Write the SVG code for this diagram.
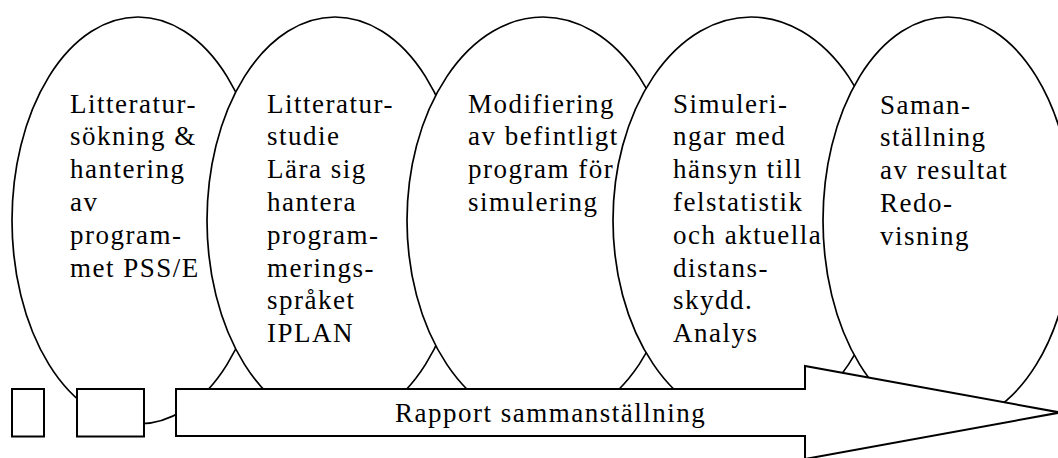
<svg xmlns="http://www.w3.org/2000/svg" width="1058" height="458" viewBox="0 0 1058 458">
<style>
.ell{fill:#fff;stroke:#000;stroke-width:1.7}
.box{fill:#fff;stroke:#000;stroke-width:2}
.lbl{font-family:"Liberation Serif","Times New Roman",serif;font-size:27px;letter-spacing:1.5px;fill:#000}
</style>
<rect width="1058" height="458" fill="#fff"/>
<g id="n1">
<ellipse class="ell" cx="138" cy="220.5" rx="126" ry="203.5"/>
<text class="lbl" x="70" y="112.5">
<tspan x="70" y="112.5">Litteratur-</tspan>
<tspan x="70" dy="32.8">sökning &amp;</tspan>
<tspan x="70" dy="32.8">hantering</tspan>
<tspan x="70" dy="32.8">av</tspan>
<tspan x="70" dy="32.8">program-</tspan>
<tspan x="70" dy="32.8">met PSS/E</tspan>
</text>
</g>
<g id="n2">
<ellipse class="ell" cx="335" cy="220.5" rx="128" ry="203.5"/>
<text class="lbl" x="267" y="112.5">
<tspan x="267" y="112.5">Litteratur-</tspan>
<tspan x="267" dy="32.8">studie</tspan>
<tspan x="267" dy="32.8">Lära sig</tspan>
<tspan x="267" dy="32.8">hantera</tspan>
<tspan x="267" dy="32.8">program-</tspan>
<tspan x="267" dy="32.8">merings-</tspan>
<tspan x="267" dy="32.8">språket</tspan>
<tspan x="267" dy="32.8">IPLAN</tspan>
</text>
</g>
<g id="n3">
<ellipse class="ell" cx="543" cy="220.5" rx="136" ry="203.5"/>
<text class="lbl" x="468" y="112.5">
<tspan x="468" y="112.5">Modifiering</tspan>
<tspan x="468" dy="32.8">av befintligt</tspan>
<tspan x="468" dy="32.8">program för</tspan>
<tspan x="468" dy="32.8">simulering</tspan>
</text>
</g>
<g id="n4">
<ellipse class="ell" cx="751" cy="220.5" rx="138" ry="203.5"/>
<text class="lbl" x="673" y="112.5">
<tspan x="673" y="112.5">Simuleri-</tspan>
<tspan x="673" dy="32.8">ngar med</tspan>
<tspan x="673" dy="32.8">hänsyn till</tspan>
<tspan x="673" dy="32.8">felstatistik</tspan>
<tspan x="673" dy="32.8">och aktuella</tspan>
<tspan x="673" dy="32.8">distans-</tspan>
<tspan x="673" dy="32.8">skydd.</tspan>
<tspan x="673" dy="32.8">Analys</tspan>
</text>
</g>
<g id="n5">
<ellipse class="ell" cx="948" cy="220.5" rx="125" ry="203.5"/>
<text class="lbl" x="880" y="113.5">
<tspan x="880" y="113.5">Saman-</tspan>
<tspan x="880" dy="32.8">ställning</tspan>
<tspan x="880" dy="32.8">av resultat</tspan>
<tspan x="880" dy="32.8">Redo-</tspan>
<tspan x="880" dy="32.8">visning</tspan>
</text>
</g>
<g id="boxA">
<rect class="box" x="12" y="389" width="32" height="47.5"/>
</g>
<g id="boxB">
<rect class="box" x="77" y="389" width="67" height="47.5"/>
</g>
<g id="rapport">
<polygon class="box" points="176,389 805,389 805,366 1060,412.5 805,459 805,436 176,436"/>
<text class="lbl" x="395" y="422">Rapport sammanställning</text>
</g>
<g id="connectors"/>
</svg>
